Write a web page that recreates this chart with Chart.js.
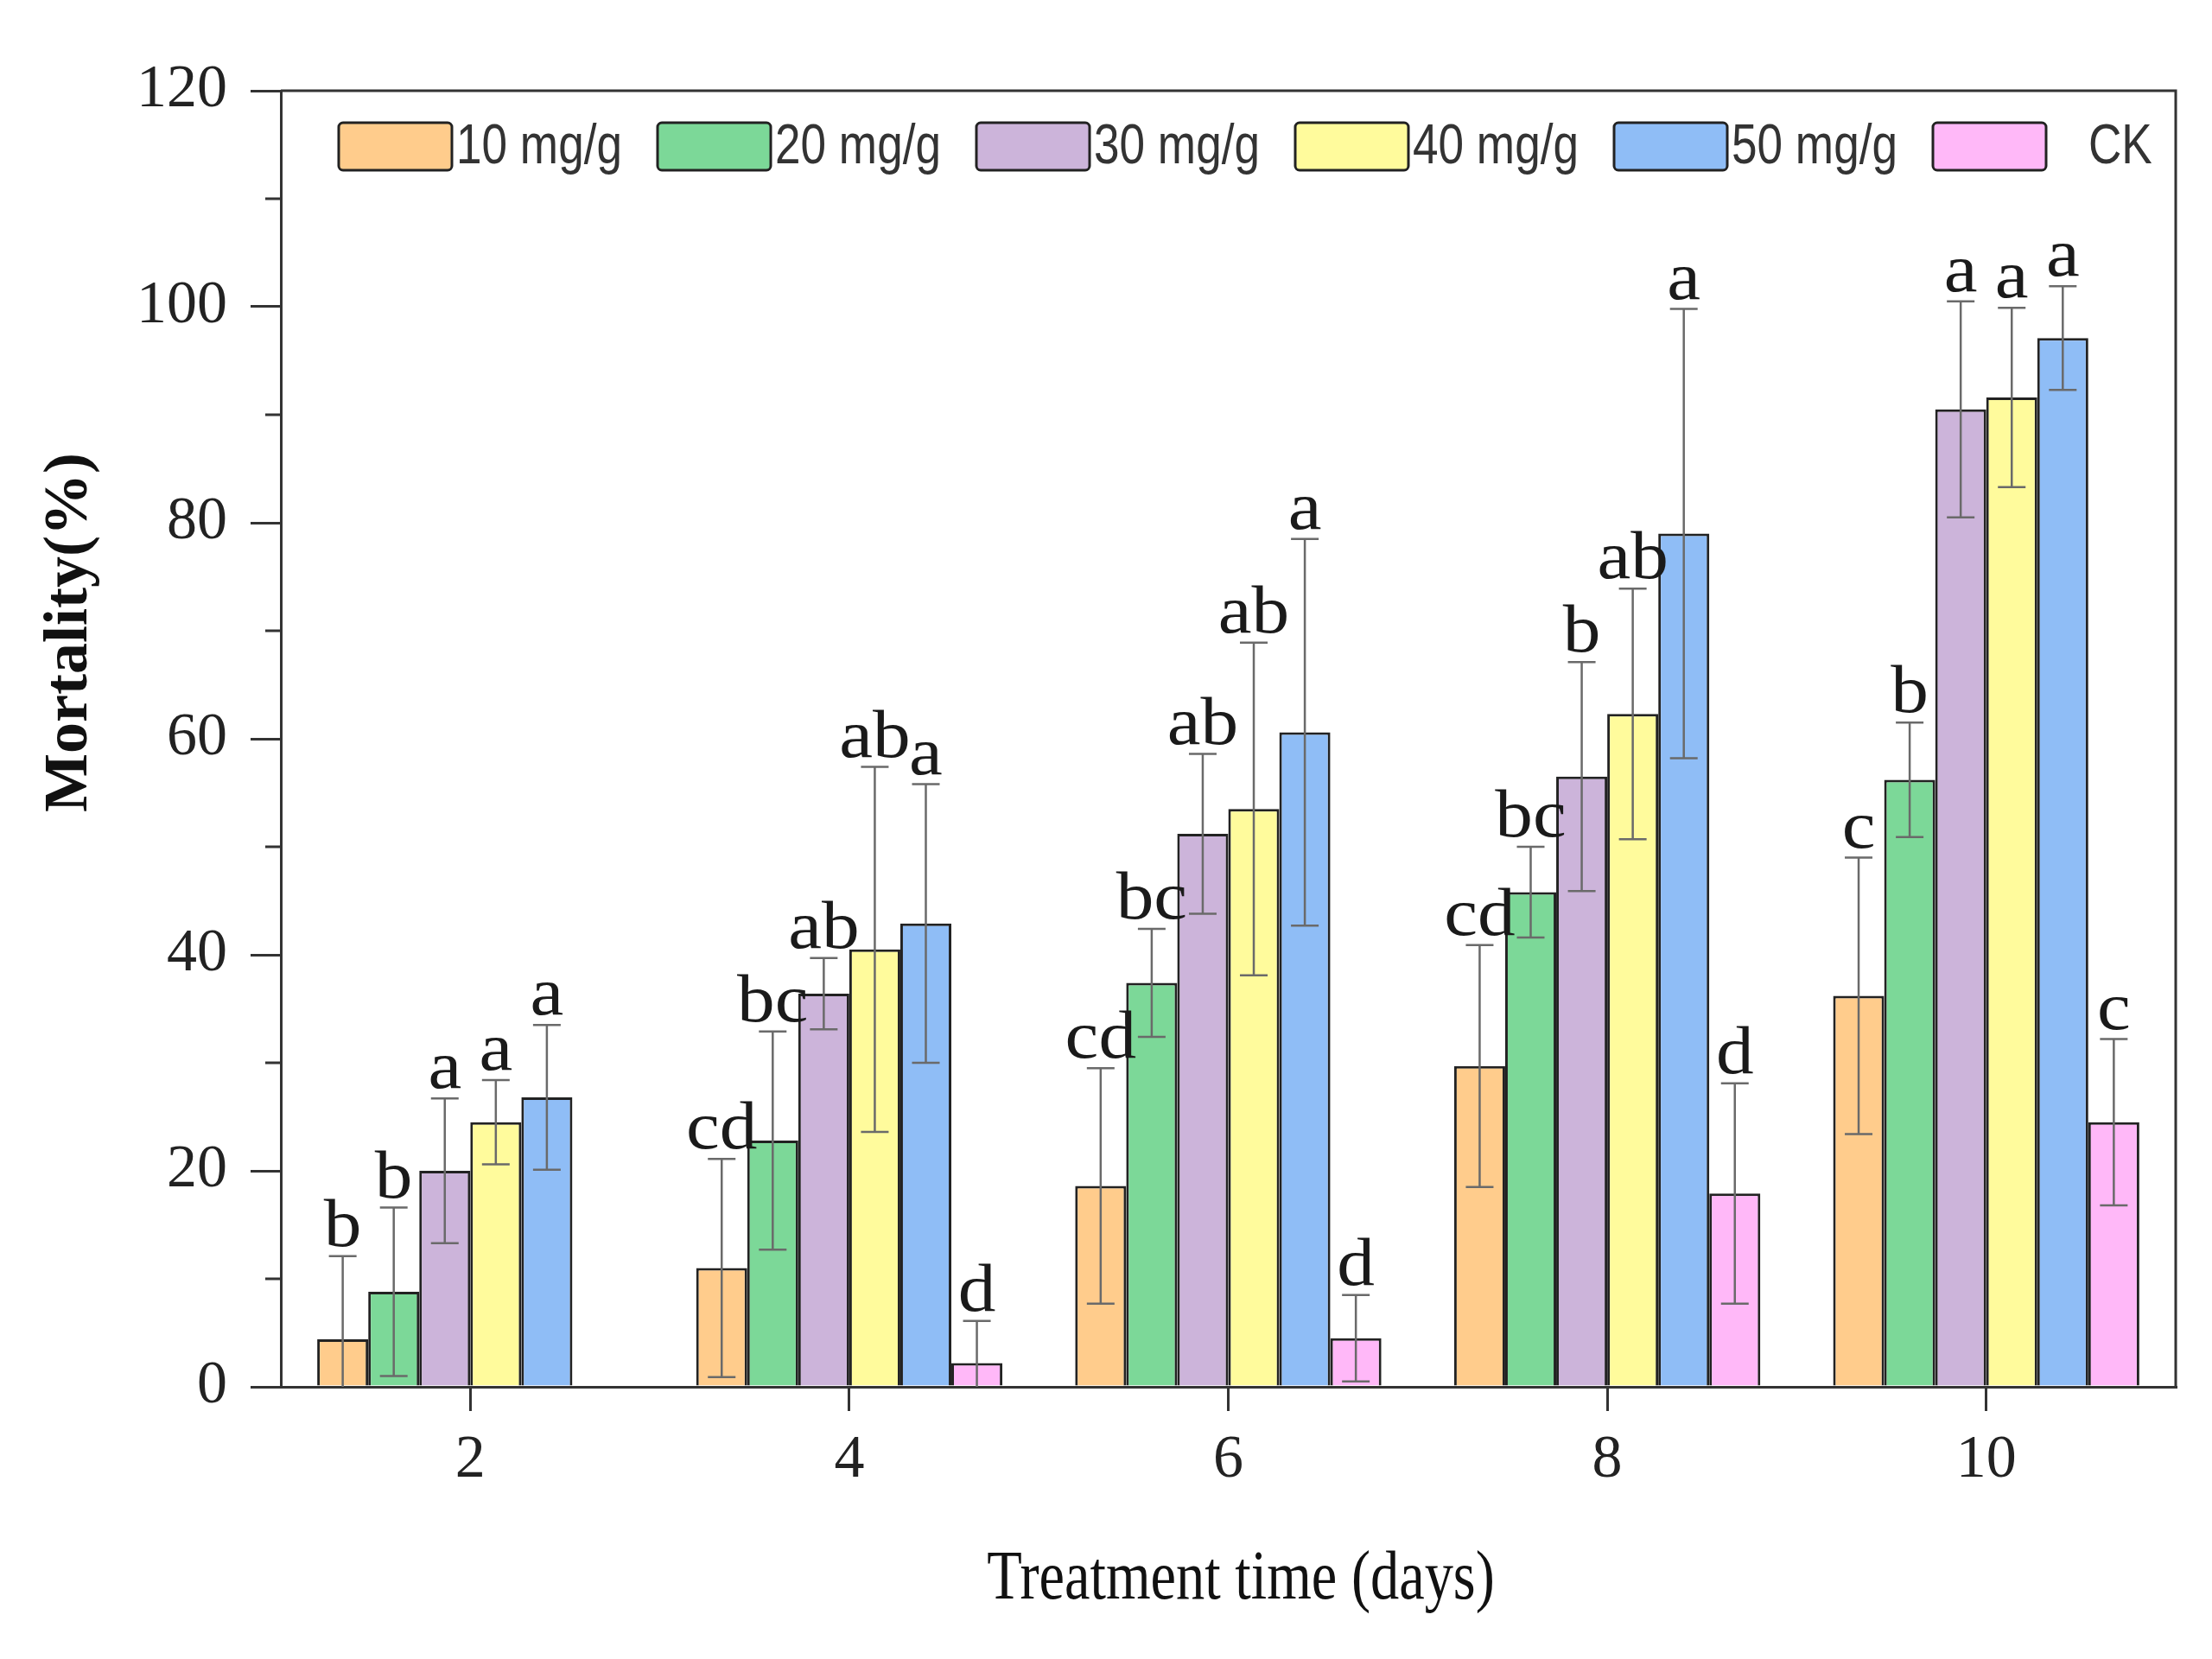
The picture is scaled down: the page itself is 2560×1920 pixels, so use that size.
<!DOCTYPE html>
<html>
<head>
<meta charset="utf-8">
<script src="https://cdn.jsdelivr.net/npm/chart.js@4.4.1/dist/chart.umd.min.js"></script>
<style>
  html, body { margin: 0; padding: 0; background: #fff; }
  #wrap { width: 2560px; height: 1920px; }
</style>
</head>
<body>
<div id="wrap"><canvas id="mortality-chart" width="2560" height="1920"></canvas></div>
<script>
// categories (treatment time, days)
const days = ['2', '4', '6', '8', '10'];

// mean mortality (%) per dose
const dose10 = [4.4, 11.0, 18.6, 29.7, 36.2];
const dose20 = [8.8, 22.8, 37.4, 45.8, 56.2];
const dose30 = [20.0, 36.4, 51.2, 56.5, 90.5];
const dose40 = [24.5, 40.5, 53.5, 62.3, 91.6];
const dose50 = [26.8, 42.9, 60.6, 79.0, 97.1];
const control = [null, 2.2, 4.5, 17.9, 24.5];

// error bar half-widths
const dose10Err = [7.7, 10.1, 10.9, 11.2, 12.8];
const dose20Err = [7.8, 10.1, 5.0, 4.2, 5.3];
const dose30Err = [6.7, 3.3, 7.4, 10.6, 10.0];
const dose40Err = [3.9, 16.9, 15.4, 11.6, 8.3];
const dose50Err = [6.7, 12.9, 17.9, 20.8, 4.8];
const controlErr = [null, 3.9, 4.0, 10.2, 7.7];

// significance letters
const dose10Sig = ['b', 'cd', 'cd', 'cd', 'c'];
const dose20Sig = ['b', 'bc', 'bc', 'bc', 'b'];
const dose30Sig = ['a', 'ab', 'ab', 'b', 'a'];
const dose40Sig = ['a', 'ab', 'ab', 'ab', 'a'];
const dose50Sig = ['a', 'a', 'a', 'a', 'a'];
const controlSig = ['', 'd', 'd', 'd', 'c'];

const seriesNames = ['10 mg/g', '20 mg/g', '30 mg/g', '40 mg/g', '50 mg/g', 'CK'];
const seriesValues = [dose10, dose20, dose30, dose40, dose50, control];
const seriesErrors = [dose10Err, dose20Err, dose30Err, dose40Err, dose50Err, controlErr];
const seriesLetters = [dose10Sig, dose20Sig, dose30Sig, dose40Sig, dose50Sig, controlSig];
const seriesColors = ['#ffcc8c', '#7cd898', '#ccb4da', '#fffb9c', '#8fbdf6', '#ffb8f8'];

const yTicks = { min: 0, max: 120, step: 20 };

const SERIF = '"Liberation Serif", "Times New Roman", serif';
const SANS = '"Liberation Sans", Arial, sans-serif';
const AXIS = '#333333';

// error bars + letters
const errorBars = {
  id: 'errorBars',
  afterDatasetsDraw(chart) {
    const { ctx } = chart;
    const y = chart.scales.y;
    chart.data.datasets.forEach((ds, i) => {
      const meta = chart.getDatasetMeta(i);
      meta.data.forEach((bar, j) => {
        const v = ds.data[j];
        const e = seriesErrors[i][j];
        if (v == null || e == null) return;
        const top = y.getPixelForValue(v + e);
        const low = y.getPixelForValue(Math.max(v - e, 0));
        ctx.save();
        ctx.strokeStyle = '#6a6a6a';
        ctx.lineWidth = 2.5;
        ctx.beginPath();
        ctx.moveTo(bar.x, top);
        ctx.lineTo(bar.x, low);
        ctx.moveTo(bar.x - 16, top);
        ctx.lineTo(bar.x + 16, top);
        if (v - e > 0) {
          ctx.moveTo(bar.x - 16, low);
          ctx.lineTo(bar.x + 16, low);
        }
        ctx.stroke();
        const letter = seriesLetters[i][j];
        if (letter) {
          ctx.translate(bar.x, top - 12);
          ctx.scale(1.12, 1);
          ctx.fillStyle = '#1a1a1a';
          ctx.font = `78px ${SERIF}`;
          ctx.textAlign = 'center';
          ctx.textBaseline = 'alphabetic';
          ctx.fillText(letter, 0, 0);
        }
        ctx.restore();
      });
    });
  }
};

// top/right frame and minor ticks on y
const frame = {
  id: 'frame',
  afterDraw(chart) {
    const { ctx, chartArea: a } = chart;
    const y = chart.scales.y;
    ctx.save();
    ctx.strokeStyle = AXIS;
    ctx.lineWidth = 3;
    ctx.beginPath();
    ctx.moveTo(a.left, a.top);
    ctx.lineTo(a.right, a.top);
    ctx.lineTo(a.right, a.bottom);
    for (let v = yTicks.min + yTicks.step / 2; v < yTicks.max; v += yTicks.step) {
      const py = y.getPixelForValue(v);
      ctx.moveTo(a.left - 18, py);
      ctx.lineTo(a.left, py);
    }
    ctx.stroke();
    ctx.restore();
  }
};

// legend drawn inside the plot frame, condensed text
const innerLegend = {
  id: 'innerLegend',
  afterDraw(chart) {
    const { ctx, chartArea: a } = chart;
    ctx.save();
    ctx.font = `64px ${SANS}`;
    const squeeze = 192 / ctx.measureText(seriesNames[0]).width;
    chart.data.datasets.forEach((ds, i) => {
      const bx = a.left + 67 + i * 369;
      const by = a.top + 37;
      ctx.fillStyle = ds.backgroundColor;
      ctx.strokeStyle = '#222';
      ctx.lineWidth = 3;
      ctx.beginPath();
      ctx.roundRect(bx, by, 131, 55, 5);
      ctx.fill();
      ctx.stroke();
      const gap = ds.label === 'CK' ? 49 : 5;
      ctx.save();
      ctx.translate(bx + 131 + gap, by + 47);
      ctx.scale(squeeze, 1);
      ctx.fillStyle = '#333';
      ctx.textAlign = 'left';
      ctx.textBaseline = 'alphabetic';
      ctx.fillText(ds.label, 0, 0);
      ctx.restore();
    });
    ctx.restore();
  }
};

// axis titles
const axisTitles = {
  id: 'axisTitles',
  afterDraw(chart) {
    const { ctx, chartArea: a } = chart;
    ctx.save();
    ctx.fillStyle = '#111';
    ctx.textAlign = 'center';
    ctx.textBaseline = 'alphabetic';
    ctx.translate(a.left - 225, a.top + 627);
    ctx.rotate(-Math.PI / 2);
    ctx.font = `bold 72px ${SERIF}`;
    ctx.fillText('Mortality(%)', 0, 0);
    ctx.restore();

    ctx.save();
    ctx.fillStyle = '#111';
    ctx.textAlign = 'center';
    ctx.textBaseline = 'alphabetic';
    ctx.translate(1436, a.bottom + 245);
    ctx.scale(0.83, 1);
    ctx.font = `80px ${SERIF}`;
    ctx.fillText('Treatment time (days)', 0, 0);
    ctx.restore();
  }
};

const chart = new Chart(document.getElementById('mortality-chart'), {
  type: 'bar',
  data: {
    labels: days,
    datasets: seriesNames.map((name, i) => ({
      label: name,
      data: seriesValues[i],
      backgroundColor: seriesColors[i],
      borderColor: '#222',
      borderWidth: 3,
      barPercentage: 1,
      categoryPercentage: 0.808
    }))
  },
  options: {
    responsive: false,
    animation: false,
    devicePixelRatio: 1,
    layout: { padding: { top: 105, right: 42, bottom: 0, left: 0 } },
    plugins: { legend: { display: false }, tooltip: { enabled: false } },
    scales: {
      x: {
        offset: true,
        grid: { offset: false, drawOnChartArea: false, drawTicks: true, tickLength: 28, color: AXIS, lineWidth: 3 },
        border: { color: AXIS, width: 3 },
        ticks: { color: '#222', padding: 16, font: { family: SERIF, size: 70 } },
        afterFit(scale) { scale.height = 315; }
      },
      y: {
        min: yTicks.min,
        max: yTicks.max,
        grid: { drawOnChartArea: false, drawTicks: true, tickLength: 35, color: AXIS, lineWidth: 3 },
        border: { color: AXIS, width: 3 },
        ticks: { stepSize: yTicks.step, color: '#222', padding: 27, font: { family: SERIF, size: 70 } },
        afterFit(scale) { scale.width = 325; }
      }
    }
  },
  plugins: [errorBars, frame, innerLegend, axisTitles]
});
</script>
</body>
</html>
